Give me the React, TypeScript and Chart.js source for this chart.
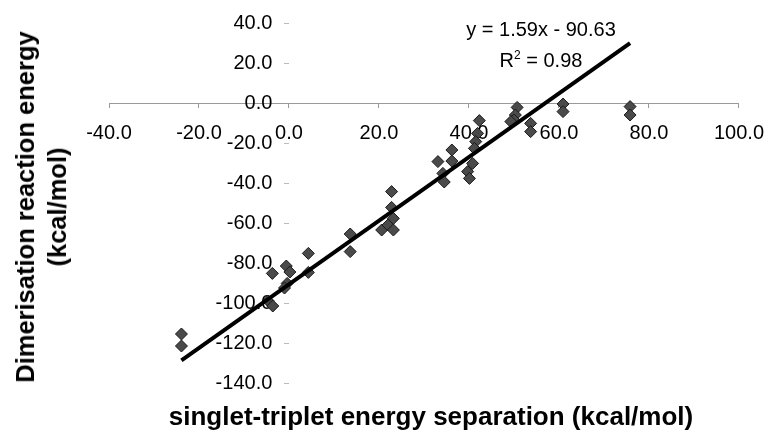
import React, { useEffect, useRef } from "react";
import { Chart, registerables } from "chart.js";

Chart.register(...registerables);

// singlet-triplet energy separation (kcal/mol)
const stSeparation = [
  -23.9, -23.9, -4.6, -3.6, -3.7, -0.6, 0.2, -0.4, -1.0, 4.3, 4.3,
  13.6, 13.6, 22.8, 22.8, 23.2, 20.6, 22.0, 23.2,
  33.1, 34.2, 34.5, 36.2, 36.2, 42.3, 41.9, 41.5, 41.2, 40.8, 39.7, 40.1,
  50.7, 50.3, 50.0, 49.3, 53.7, 53.7, 60.9, 60.9, 75.8, 75.8,
];
// Dimerisation reaction energy (kcal/mol)
const dimerEnergy = [
  -115.5, -121.5, -99.0, -101.5, -85.2, -81.5, -84.5, -90.2, -92.5, -75.2, -84.7,
  -65.5, -74.3, -44.3, -52.2, -57.7, -63.5, -61.0, -63.5,
  -29.3, -35.2, -39.5, -23.5, -29.0, -8.8, -15.2, -19.3, -22.7, -30.2, -34.3, -37.7,
  -2.2, -6.0, -8.5, -9.3, -10.2, -14.3, -0.5, -4.3, -1.8, -6.0,
];

const TREND_SLOPE = 1.59;
const TREND_INTERCEPT = -90.63;
const TREND_LABEL = "y = 1.59x - 90.63";
const R2_LABEL = "0.98";

const X_MIN = -40;
const X_MAX = 100;
const Y_MIN = -140;
const Y_MAX = 40;
const TICK_STEP = 20;

const X_TITLE = "singlet-triplet energy separation (kcal/mol)";
const Y_TITLE_1 = "Dimerisation reaction energy";
const Y_TITLE_2 = "(kcal/mol)";

const FONT = "'Liberation Sans', Arial, Helvetica, sans-serif";

export default function App() {
  const canvasRef = useRef<HTMLCanvasElement | null>(null);

  useEffect(() => {
    const canvas = canvasRef.current;
    if (!canvas) return;
    const points = stSeparation.map((x, i) => ({ x, y: dimerEnergy[i] }));
    const xLo = Math.min(...stSeparation);
    const xHi = Math.max(...stSeparation);
    const trend = [xLo, xHi].map((x) => ({ x, y: TREND_SLOPE * x + TREND_INTERCEPT }));

    const chart = new Chart(canvas, {
      type: "scatter",
      data: {
        datasets: [
          {
            type: "line",
            data: trend,
            borderColor: "#000",
            borderWidth: 4,
            pointRadius: 0,
            fill: false,
            order: 0,
          } as any,
          {
            data: points,
            pointStyle: "rectRot",
            pointRadius: 6,
            backgroundColor: "#4a4a4a",
            borderColor: "#1a1a1a",
            borderWidth: 1,
            order: 1,
          },
        ],
      },
      options: {
        animation: false,
        responsive: false,
        layout: { padding: { left: 109, right: 34, top: 23, bottom: 52 } },
        plugins: { legend: { display: false }, tooltip: { enabled: false } },
        scales: {
          x: {
            type: "linear",
            min: X_MIN,
            max: X_MAX,
            position: { y: 0 } as any,
            ticks: {
              stepSize: TICK_STEP,
              autoSkip: false,
              maxRotation: 0,
              color: "#000",
              padding: 14,
              font: { family: FONT, size: 20 },
              callback: (v: any) => Number(v).toFixed(1),
            },
            grid: { drawOnChartArea: false, drawTicks: true, tickLength: 4, color: "#999" },
            border: { display: true, color: "#999", width: 1 },
          },
          y: {
            type: "linear",
            min: Y_MIN,
            max: Y_MAX,
            position: { x: 0 } as any,
            ticks: {
              stepSize: TICK_STEP,
              autoSkip: false,
              color: "#000",
              padding: 10,
              font: { family: FONT, size: 20 },
              callback: (v: any) => Number(v).toFixed(1) + "   ",
            },
            grid: { drawOnChartArea: false, drawTicks: true, tickLength: 5, color: "#bbb" },
            border: { display: false },
          },
        },
      },
    });
    return () => chart.destroy();
  }, []);

  return (
    <div style={{ position: "fixed", left: 0, top: 0, width: 778, height: 435, background: "#fff", fontFamily: FONT }}>
      <canvas ref={canvasRef} width={778} height={435} style={{ position: "absolute", left: 0, top: 0 }} />
      <div
        style={{
          position: "absolute",
          left: 541,
          top: 45,
          transform: "translate(-50%, -50%)",
          textAlign: "center",
          fontSize: 20,
          lineHeight: "31px",
          whiteSpace: "nowrap",
          color: "#000",
        }}
      >
        <div>{TREND_LABEL}</div>
        <div>
          R<sup style={{ fontSize: 12, verticalAlign: "8px", lineHeight: 0 }}>2</sup> = {R2_LABEL}
        </div>
      </div>
      <div
        style={{
          position: "absolute",
          left: 431,
          top: 416,
          transform: "translate(-50%, -50%)",
          fontSize: 26,
          fontWeight: "bold",
          whiteSpace: "nowrap",
          color: "#000",
        }}
      >
        {X_TITLE}
      </div>
      <div
        style={{
          position: "absolute",
          left: 41,
          top: 207,
          transform: "translate(-50%, -50%) rotate(-90deg)",
          fontSize: 25.5,
          fontWeight: "bold",
          lineHeight: "32px",
          textAlign: "center",
          whiteSpace: "nowrap",
          color: "#000",
        }}
      >
        <div>{Y_TITLE_1}</div>
        <div>{Y_TITLE_2}</div>
      </div>
    </div>
  );
}
